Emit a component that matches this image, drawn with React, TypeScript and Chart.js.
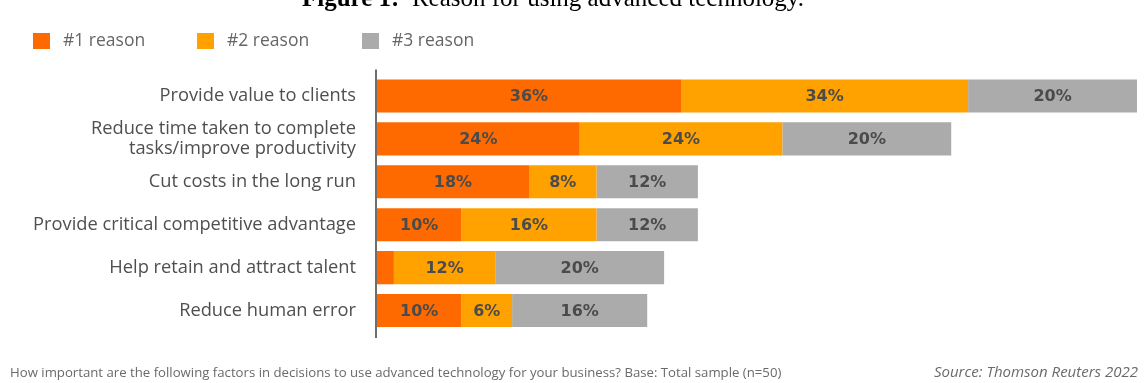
import React, { useEffect, useRef } from "react";
import { Chart, registerables } from "chart.js";

Chart.register(...registerables);

// ---------- data ----------
const categories: (string | string[])[] = [
  "Provide value to clients",
  ["Reduce time taken to complete", "tasks/improve productivity"],
  "Cut costs in the long run",
  "Provide critical competitive advantage",
  "Help retain and attract talent",
  "Reduce human error",
];
const reason1 = [36, 24, 18, 10, 2, 10];
const reason2 = [34, 24, 8, 16, 12, 6];
const reason3 = [20, 20, 12, 12, 20, 16];
const seriesNames = ["#1 reason", "#2 reason", "#3 reason"];
const seriesColors = ["#ff6a00", "#ffa200", "#ababab"];

const titleBold = "Figure 1:";
const titleRest = "Reason for using advanced technology.";
const footnote =
  "How important are the following factors in decisions to use advanced technology for your business? Base: Total sample (n=50)";
const sourceNote = "Source: Thomson Reuters 2022";

// ---------- style constants ----------
const W = 1144;
const H = 383;
const SANS = "'Open Sans', sans-serif";
const legendX = [33, 197, 362];

const overlayPlugin = {
  id: "overlay",
  afterDatasetsDraw(chart: any) {
    const ctx = chart.ctx as CanvasRenderingContext2D;
    ctx.save();
    ctx.font = "bold 16px 'DejaVu Sans'";
    ctx.fillStyle = "#4b4b4b";
    ctx.textAlign = "center";
    ctx.textBaseline = "middle";
    chart.data.datasets.forEach((ds: any, di: number) => {
      const meta = chart.getDatasetMeta(di);
      meta.data.forEach((el: any, i: number) => {
        const v = ds.data[i];
        if (v < 4) return;
        const cx = (el.x + el.base) / 2;
        ctx.fillText(v + "%", cx, el.y + 1);
      });
    });
    ctx.restore();
  },
  afterDraw(chart: any) {
    const ctx = chart.ctx as CanvasRenderingContext2D;
    const area = chart.chartArea;
    ctx.save();
    // vertical axis line
    ctx.strokeStyle = "#6e6e6e";
    ctx.lineWidth = 2;
    ctx.beginPath();
    ctx.moveTo(area.left - 1, area.top - 5);
    ctx.lineTo(area.left - 1, area.bottom + 6);
    ctx.stroke();

    // legend
    ctx.textBaseline = "middle";
    ctx.textAlign = "left";
    ctx.font = `17.5px ${SANS}`;
    chart.data.datasets.forEach((ds: any, i: number) => {
      const x = legendX[i];
      ctx.fillStyle = ds.backgroundColor;
      ctx.fillRect(x, 33, 17, 16);
      ctx.fillStyle = "#666666";
      ctx.fillText(ds.label, x + 30, 41);
    });

    // title (cut at top)
    ctx.textBaseline = "alphabetic";
    ctx.fillStyle = "#000000";
    ctx.font = "bold 25px 'Liberation Serif', serif";
    ctx.fillText(titleBold, 302, 6);
    const bw = ctx.measureText(titleBold + "  ").width;
    ctx.font = "25px 'Liberation Serif', serif";
    ctx.fillText(titleRest, 302 + bw, 6);

    // footer
    ctx.fillStyle = "#6a6a6a";
    ctx.font = `13.2px ${SANS}`;
    ctx.fillText(footnote, 10, 377);
    ctx.font = `italic 15px ${SANS}`;
    ctx.textAlign = "right";
    ctx.fillText(sourceNote, 1138, 377);
    ctx.restore();
  },
};

export default function App() {
  const ref = useRef<HTMLCanvasElement | null>(null);

  useEffect(() => {
    if (!ref.current) return;
    const chart = new Chart(ref.current, {
      type: "bar",
      data: {
        labels: categories,
        datasets: [reason1, reason2, reason3].map((d, i) => ({
          label: seriesNames[i],
          data: d,
          backgroundColor: seriesColors[i],
          borderWidth: 0,
          barPercentage: 0.77,
          categoryPercentage: 1,
        })),
      },
      options: {
        indexAxis: "y",
        animation: false,
        responsive: false,
        devicePixelRatio: 1,
        layout: { padding: { left: 0, right: 7, top: 74.5, bottom: 51 } },
        plugins: {
          legend: { display: false },
          tooltip: { enabled: false },
          title: { display: false },
        },
        scales: {
          x: {
            stacked: true,
            min: 0,
            max: 90,
            display: false,
          },
          y: {
            stacked: true,
            grid: { display: false, drawTicks: false },
            border: { display: false },
            ticks: {
              autoSkip: false,
              color: "#4f4f4f",
              padding: 21,
              font: { family: SANS, size: 18.3, lineHeight: 1.1 },
            },
            afterFit: (scale: any) => {
              scale.width = 377;
            },
          },
        },
      },
      plugins: [overlayPlugin],
    });
    return () => chart.destroy();
  }, []);

  return (
    <div
      style={{
        position: "fixed",
        left: 0,
        top: 0,
        width: W,
        height: H,
        background: "#ffffff",
        overflow: "hidden",
      }}
    >
      <canvas ref={ref} width={W} height={H} style={{ display: "block", width: W, height: H }} />
    </div>
  );
}
